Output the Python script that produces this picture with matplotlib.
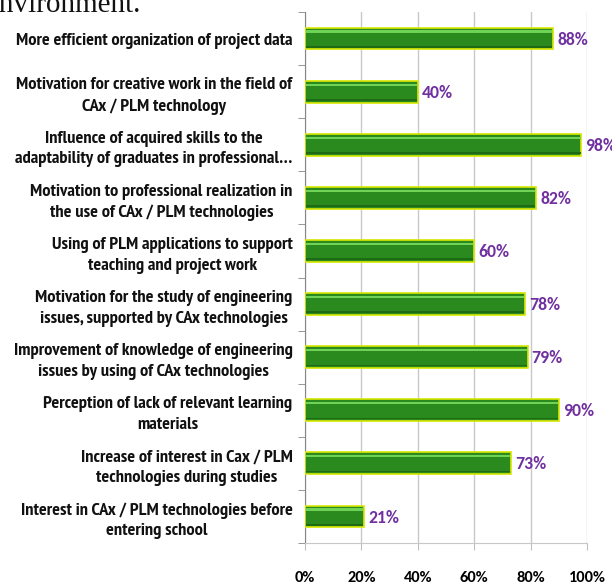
import matplotlib
matplotlib.use("Agg")
import matplotlib.pyplot as plt
from matplotlib import font_manager as fm
from matplotlib.ticker import FixedLocator

names = {f.name for f in fm.fontManager.ttflist}
LF = 'Carlito' if 'Carlito' in names else 'DejaVu Sans'
NF = 'PT Sans Narrow' if 'PT Sans Narrow' in names else LF

categories = [
    "More efficient organization of project data",
    "Motivation for creative work in the field of\nCAx / PLM technology",
    "Influence of acquired skills to the\nadaptability of graduates in professional\u2026",
    "Motivation to professional realization in\nthe use of CAx / PLM technologies",
    "Using of PLM applications to support\nteaching and project work",
    "Motivation for the study of engineering\nissues, supported by CAx technologies",
    "Improvement of knowledge of engineering\nissues by using of CAx technologies",
    "Perception of lack of relevant learning\nmaterials",
    "Increase of interest in Cax / PLM\ntechnologies during studies",
    "Interest in CAx / PLM technologies before\nentering school",
]
values = [88, 40, 98, 82, 60, 78, 79, 90, 73, 21]
xticks = [0, 20, 40, 60, 80, 100]
xticklabels = ["0%", "20%", "40%", "60%", "80%", "100%"]

W, H = 612, 584
fig = plt.figure(figsize=(W / 100, H / 100), dpi=100)
ax = fig.add_axes([305 / W, 1 - 543 / H, (587 - 305) / W, (543 - 12) / H])

# fit category label size so the longest single-line label is ~277 px wide
renderer = fig.canvas.get_renderer()
t = fig.text(0, 0, categories[0], fontsize=11.5, fontweight='bold', family=NF)
wpx = t.get_window_extent(renderer).width
t.remove()
lab_fs = 11.5 * 277.0 / wpx

pos = list(range(len(values)))
bh = 0.41
ax.barh(pos, values, height=bh, color='#2B8A1E', edgecolor='#D8E800', linewidth=1.2, zorder=3)
ax.barh([p - bh * 0.32 for p in pos], [v - 0.6 for v in values], left=0.3, height=bh * 0.1,
        color='#6FD455', linewidth=0, zorder=4)
ax.barh([p + bh * 0.38 for p in pos], [v - 0.6 for v in values], left=0.3, height=bh * 0.08,
        color='#1F6A14', linewidth=0, zorder=4)

for p, v in zip(pos, values):
    ax.text(v + 1.4, p + 0.02, f"{v}%", va='center', ha='left', color='#7030A0',
            fontsize=12.8, fontweight='bold', family=LF, clip_on=False)

ax.set_xlim(0, 100)
ax.set_ylim(len(values) - 0.5, -0.5)
ax.set_xticks(xticks)
ax.set_xticklabels(xticklabels, fontsize=11.8, fontweight='bold', family=LF)
ax.set_yticks(pos)
ax.set_yticklabels(categories, fontsize=lab_fs, fontweight='bold', family=NF,
                   multialignment='center', color='#111111', linespacing=1.38)
ax.yaxis.set_minor_locator(FixedLocator([i - 0.5 for i in range(len(values) + 1)]))
ax.tick_params(axis='y', which='major', length=0, pad=9)
ax.tick_params(axis='y', which='minor', length=5, color='#868686', direction='out')
ax.tick_params(axis='x', which='major', length=5, color='#BFBFBF', pad=15, direction='out')
ax.grid(axis='x', color='#C8C8C8', linewidth=1, zorder=0)
ax.set_axisbelow(True)
for s in ['top', 'right']:
    ax.spines[s].set_visible(False)
ax.spines['left'].set_color('#868686')
ax.spines['bottom'].set_color('#C8C8C8')

fig.text(-13 / W, 1 - 12 / H, "environment.", family='Liberation Serif', fontsize=21,
         va='baseline', ha='left', color='#111111')

fig.savefig("out.png", dpi=100)
